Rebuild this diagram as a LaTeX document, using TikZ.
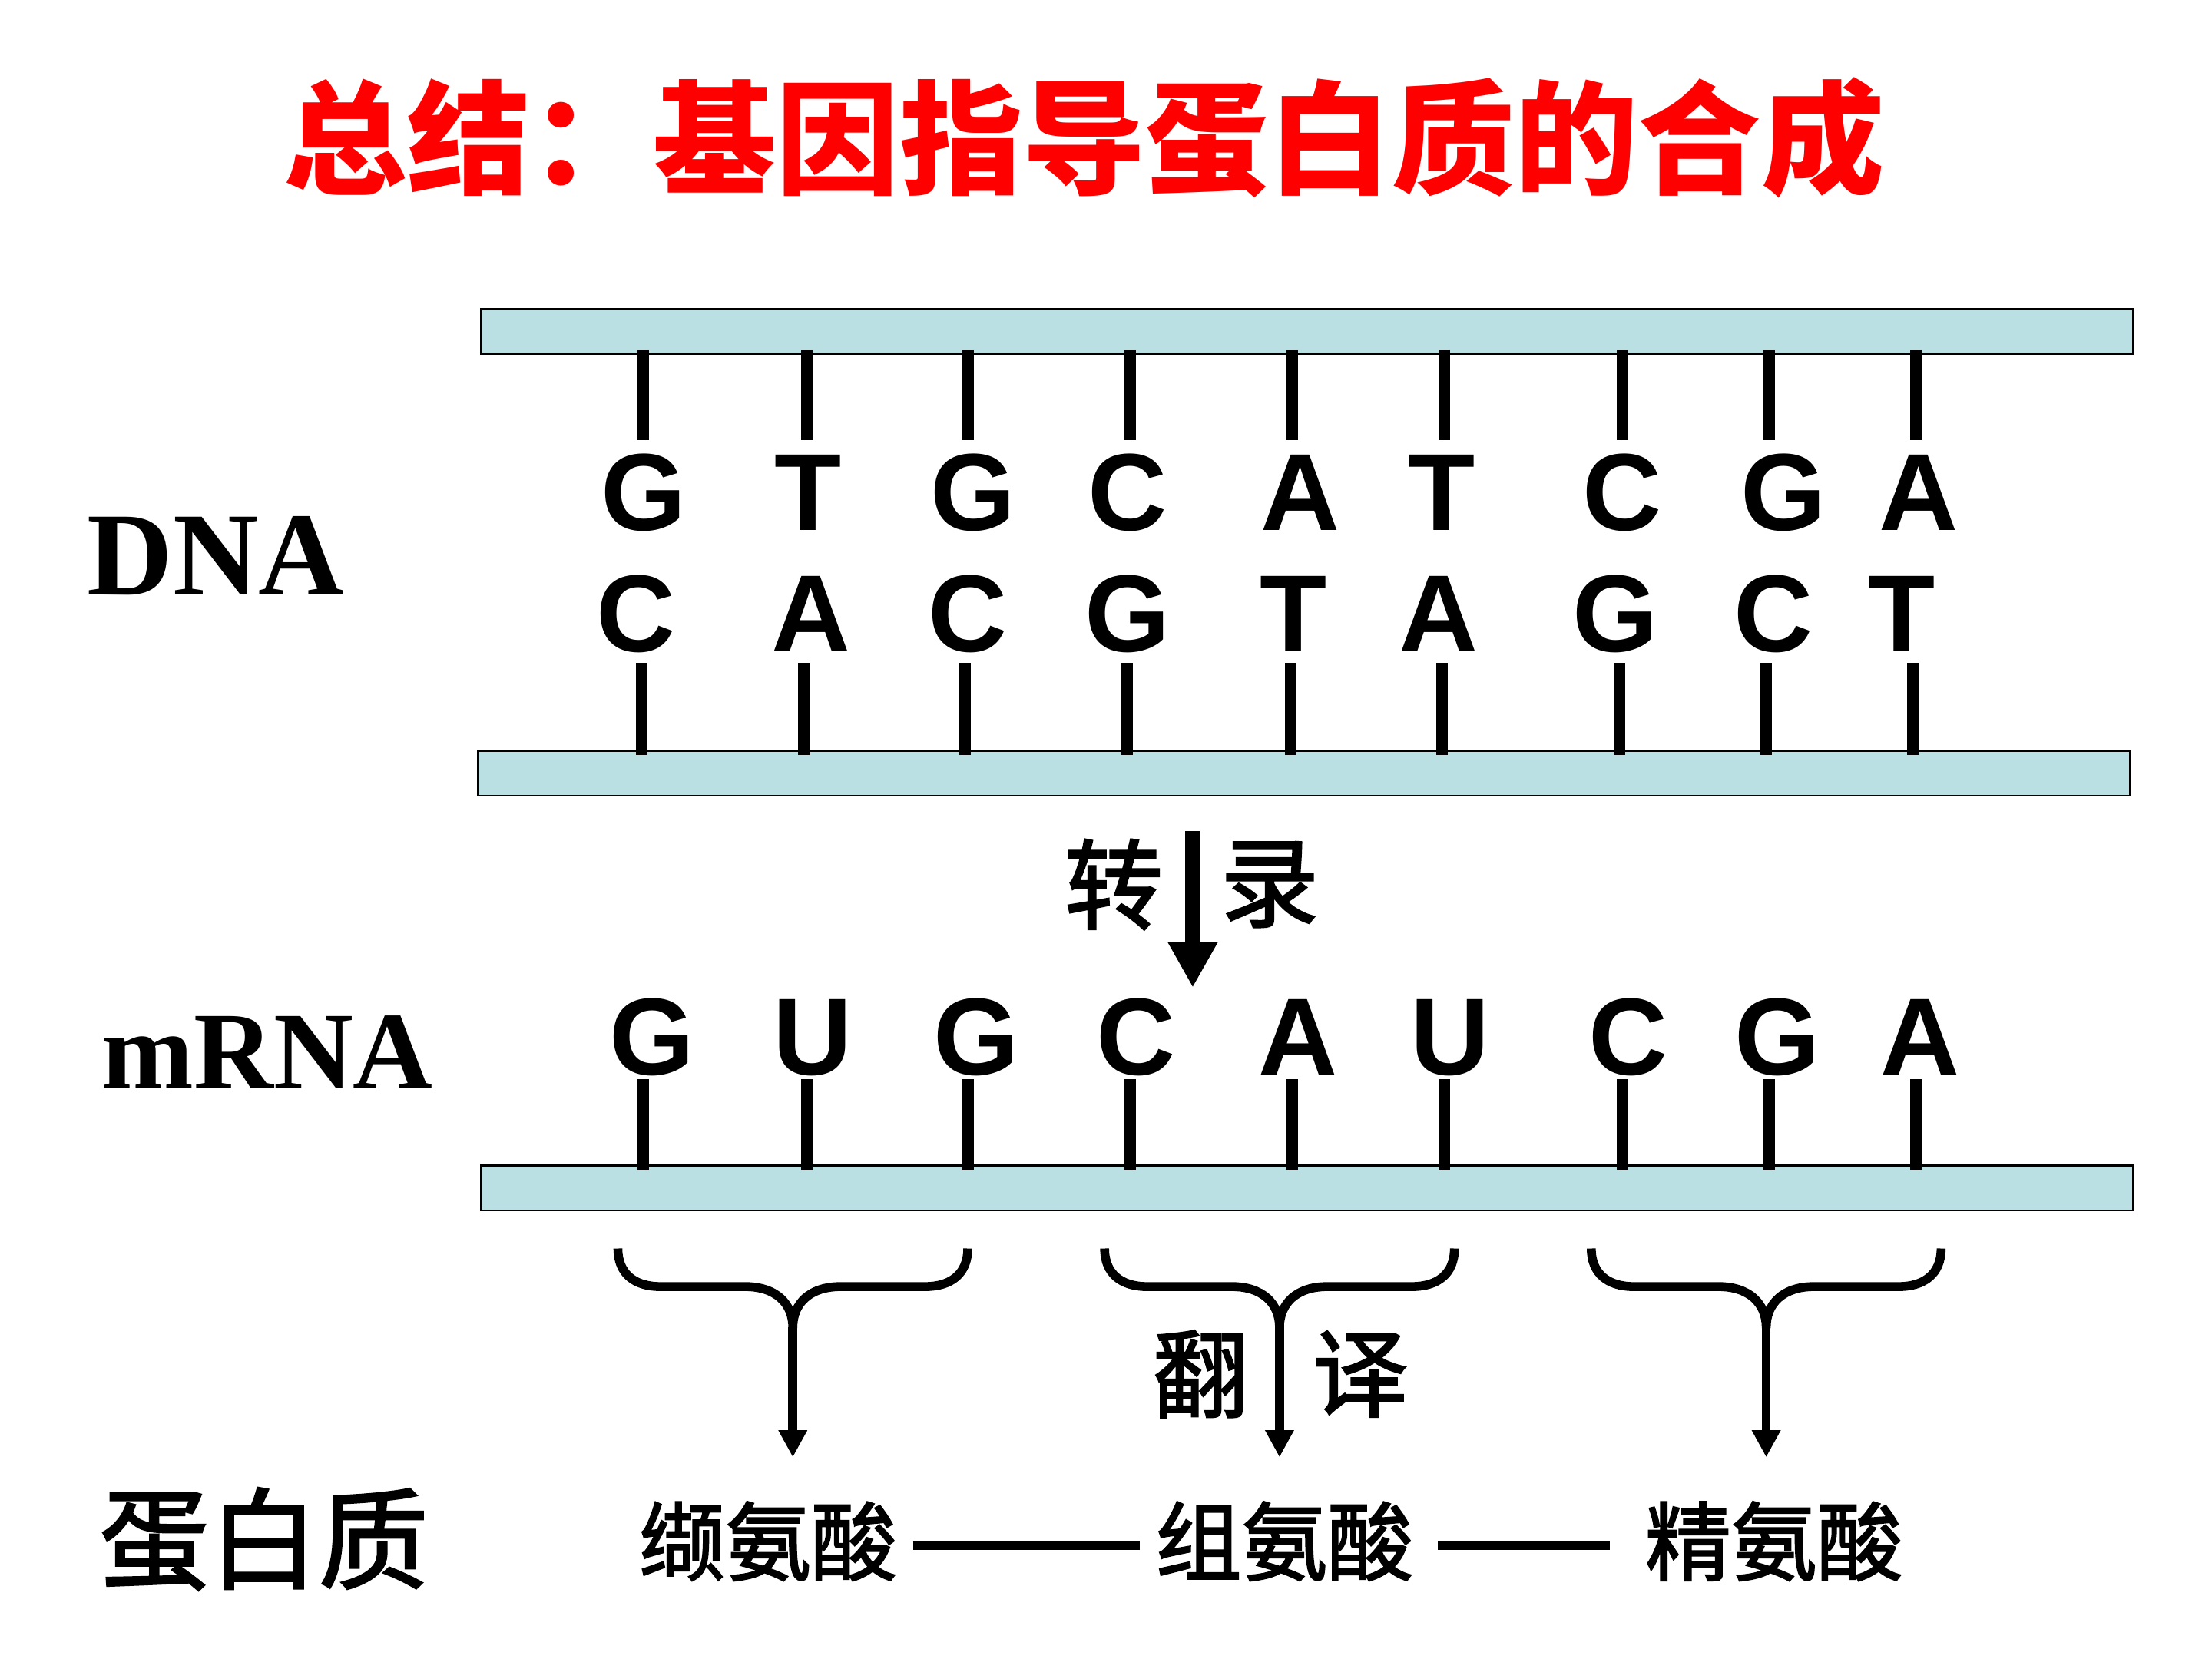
\documentclass[tikz,border=0pt]{standalone}
\usepackage{fontspec}
\setmainfont{Liberation Serif}
\newfontfamily\cjk{Noto Sans CJK SC}
\newfontfamily\cjkm[FakeBold=2]{Noto Sans CJK SC}
\newfontfamily\basefont{Liberation Sans}
\usetikzlibrary{arrows.meta}
\definecolor{barblue}{RGB}{187,224,227}
\definecolor{titlered}{RGB}{255,0,0}
\tikzset{
  bar/.style={draw=black,line width=0.8pt,fill=barblue},
  bond/.style={line width=4.3pt},
  nuc/.style={font=\basefont\bfseries\fontsize{40.6}{40.6}\selectfont,inner sep=0pt,anchor=base},
  sidelabel/.style={font=\bfseries\fontsize{44}{44}\selectfont,inner sep=0pt,anchor=base},
  cjktext/.style={font=\cjkm\fontsize{#1}{#1}\selectfont,inner sep=0pt},
  cjktitle/.style={font=\cjk\bfseries\fontsize{#1}{#1}\selectfont,inner sep=0pt},
  brace/.style={line width=3.3pt,line join=round},
  thinarrow/.style={line width=3.3pt,-{Triangle[width=10pt,length=10pt]}},
  bigarrow/.style={line width=5.6pt,-{Triangle[width=17.2pt,length=16.7pt]}},
  chain/.style={line width=3pt}
}
\begin{document}
\begin{tikzpicture}[x=0.18367mm,y=-0.18367mm]
\useasboundingbox (0,0) rectangle (1568,1176);

% title
\node[cjktitle=45.6,text=titlered] (title) at (768.5,97.5) {总结：基因指导蛋白质的合成};

% side labels
\node[sidelabel] (dna) at (153,421.4) {DNA};
\node[sidelabel,font=\bfseries\fontsize{40.9}{40.9}\selectfont] (mrna) at (189.5,771.5) {mRNA};
\node[cjktext=40.6] (prot) at (187,1091) {蛋白质};

% bars
\draw[bar] (341,219) rectangle (1512,251);
\draw[bar] (339,532) rectangle (1510,564);
\draw[bar] (341,826) rectangle (1512,858);

% DNA top strand
\foreach \x/\l [count=\i] in {456/G,573/T,690/G,799/C,922/A,1022/T,1150/C,1264/G,1360/A}
  \node[nuc] (t\i) at (\x,376) {\l};
\foreach \x in {456,572,686,801,916,1024,1150,1254,1358}
  \draw[bond] (\x,248) -- (\x,312);

% DNA bottom strand
\foreach \x/\l [count=\i] in {451/C,575/A,686/C,799/G,917/T,1020/A,1145/G,1257/C,1348/T}
  \node[nuc] (b\i) at (\x,462) {\l};
\foreach \x in {455,570,684,799,915,1022,1148,1252,1356}
  \draw[bond] (\x,470) -- (\x,535);

% transcription
\coordinate (trs) at (845.5,589);
\coordinate (tre) at (845.5,700);
\draw[bigarrow] (trs) -- (tre);
\node[cjktext=36.4] (zhuan) at (789.5,627) {转};
\node[cjktext=36.4] (lu) at (900,627) {录};

% mRNA
\foreach \x/\l [count=\i] in {462/G,576/U,692/G,805/C,920/A,1028/U,1154/C,1260/G,1361/A}
  \node[nuc] (m\i) at (\x,762) {\l};
\foreach \x in {456,572,686,801,916,1024,1150,1254,1358}
  \draw[bond] (\x,765) -- (\x,829);

% braces and arrows
\foreach \c [count=\i] in {562,907,1252} {
  \coordinate (bj\i) at (\c,941);
  \coordinate (be\i) at (\c,1033);
  \draw[brace] ({\c-124},885) .. controls ({\c-124},903) and ({\c-112},912) .. ({\c-94},912)
     -- ({\c-34},912) .. controls ({\c-12},912) and (\c,924) .. (bj\i)
     .. controls (\c,924) and ({\c+12},912) .. ({\c+34},912)
     -- ({\c+94},912) .. controls ({\c+112},912) and ({\c+124},903) .. ({\c+124},885);
  \draw[thinarrow] (bj\i) -- (be\i);
}
\node[cjktext=35.4] (fan) at (851,974) {翻};
\node[cjktext=35.4] (yi) at (964,974) {译};

% amino acids
\node[cjktext=31.8] (aa1) at (544.5,1092.5) {缬氨酸};
\node[cjktext=31.8] (aa2) at (910.5,1092.5) {组氨酸};
\node[cjktext=31.8] (aa3) at (1257.5,1092.5) {精氨酸};
\draw[chain,shorten <=5.7pt,shorten >=5.7pt] ([yshift=-1.6pt]aa1.east) -- ([yshift=-1.6pt]aa2.west);
\draw[chain,shorten <=8.9pt,shorten >=13pt] ([yshift=-1.6pt]aa2.east) -- ([yshift=-1.6pt]aa3.west);
\end{tikzpicture}
\end{document}
